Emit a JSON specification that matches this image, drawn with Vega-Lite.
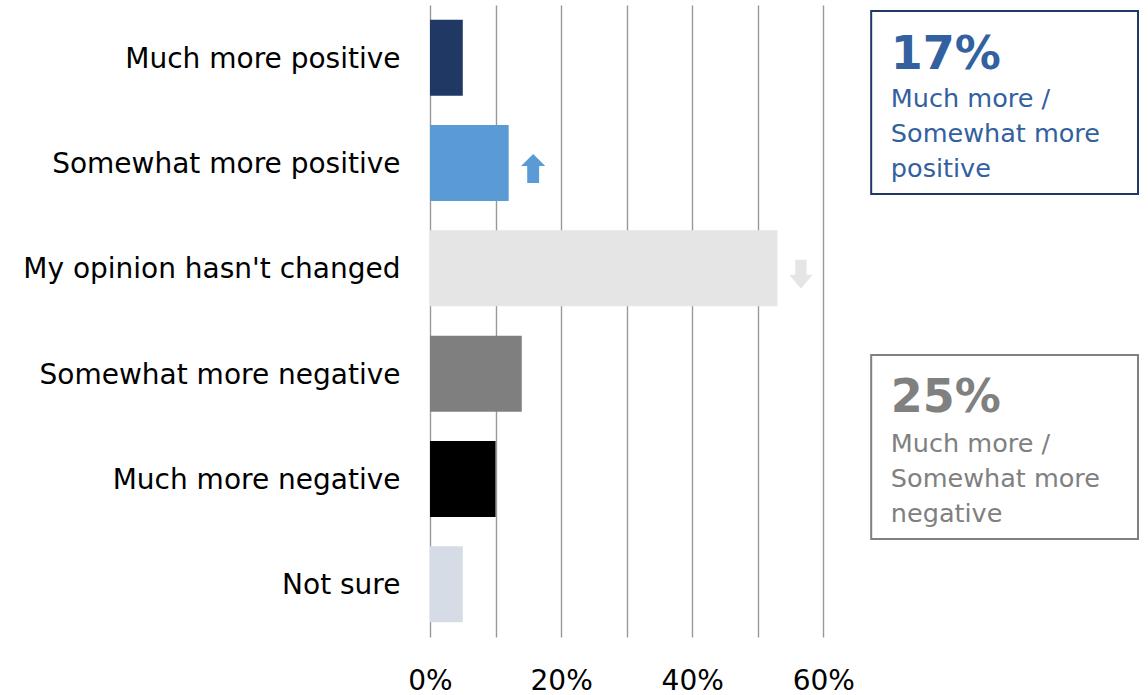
{
  "$schema": "https://vega.github.io/schema/vega-lite/v6.json",
  "width": 708,
  "height": 632,
  "autosize": {"type": "none"},
  "padding": {"left": 430, "top": 5, "right": 10, "bottom": 58},
  "background": "white",
  "config": {
    "view": {"stroke": null},
    "font": "DejaVu Sans",
    "axisY": {
      "grid": false,
      "domain": false,
      "ticks": false,
      "tickSize": 0,
      "labelFontSize": 28,
      "labelColor": "#000000",
      "labelPadding": 30,
      "labelOffset": 2,
      "labelLimit": 500,
      "title": null
    }
  },
  "data": {
    "values": [
      {"category": "Much more positive", "value": 5},
      {"category": "Somewhat more positive", "value": 12, "arrow": "up"},
      {"category": "My opinion hasn't changed", "value": 53, "arrow": "down"},
      {"category": "Somewhat more negative", "value": 14},
      {"category": "Much more negative", "value": 10},
      {"category": "Not sure", "value": 5}
    ]
  },
  "layer": [
    {
      "encoding": {
        "y": {
          "field": "category",
          "type": "nominal",
          "scale": {
            "domain": ["Much more positive", "Somewhat more positive", "My opinion hasn't changed", "Somewhat more negative", "Much more negative", "Not sure"],
            "paddingInner": 0.278,
            "paddingOuter": 0.139
          }
        },
        "x": {
          "field": "value",
          "type": "quantitative",
          "scale": {"domain": [0, 108], "nice": false, "zero": true},
          "axis": {
            "values": [0, 10, 20, 30, 40, 50, 60],
            "labelExpr": "datum.value % 20 == 0 ? datum.value + '%' : ''",
            "grid": true, "gridColor": "#999999", "gridWidth": 1.4,
            "domain": false, "ticks": false, "tickSize": 0,
            "labelFontSize": 28, "labelColor": "#000000", "labelPadding": 30,
            "labelFlush": false, "title": null
          }
        }
      },
      "layer": [
        {
          "mark": {"type": "bar"},
          "encoding": {
            "color": {
              "field": "category",
              "type": "nominal",
              "legend": null,
              "scale": {
                "domain": ["Much more positive", "Somewhat more positive", "My opinion hasn't changed", "Somewhat more negative", "Much more negative", "Not sure"],
                "range": ["#1F3864", "#5B9BD5", "#E5E5E5", "#7F7F7F", "#000000", "#D6DCE5"]
              }
            }
          }
        },
        {
          "transform": [{"filter": "datum.arrow == 'up'"}],
          "mark": {
            "type": "point", "filled": true, "opacity": 1, "color": "#5B9BD5",
            "size": 841, "xOffset": 24.5, "yOffset": 5.5,
            "shape": "M0,-1L0.83,-0.17L0.41,-0.17L0.41,1L-0.41,1L-0.41,-0.17L-0.83,-0.17Z"
          }
        },
        {
          "transform": [{"filter": "datum.arrow == 'down'"}],
          "mark": {
            "type": "point", "filled": true, "opacity": 1, "color": "#E5E5E5",
            "size": 841, "xOffset": 23.5, "yOffset": 6,
            "shape": "M-0.39,-1L0.39,-1L0.39,0.03L0.8,0.03L0,1L-0.8,0.03L-0.39,0.03Z"
          }
        }
      ]
    },
    {
      "data": {"values": [{"pct": "17%", "desc": "Much more /\nSomewhat more\npositive"}]},
      "layer": [
        {
          "mark": {"type": "rect", "fill": "white", "stroke": "#1F3864", "strokeWidth": 2},
          "encoding": {
            "x": {"datum": 67.3, "type": "quantitative", "scale": {"domain": [0, 108], "nice": false},
              "axis": {
                "values": [0, 10, 20, 30, 40, 50, 60],
                "labelExpr": "datum.value % 20 == 0 ? datum.value + '%' : ''",
                "grid": true, "gridColor": "#999999", "gridWidth": 1.4,
                "domain": false, "ticks": false, "tickSize": 0,
                "labelFontSize": 28, "labelColor": "#000000", "labelPadding": 30,
                "labelFlush": false, "title": null
              }},
            "x2": {"datum": 108},
            "y": {"datum": 0.95, "type": "quantitative", "scale": {"domain": [0, 100], "reverse": true, "nice": false}, "axis": null},
            "y2": {"datum": 29.9}
          }
        },
        {
          "mark": {"type": "text", "align": "left", "baseline": "alphabetic", "fontSize": 46, "fontWeight": "bold", "color": "#33609F"},
          "encoding": {
            "x": {"datum": 70.3, "type": "quantitative"},
            "y": {"datum": 10.1, "type": "quantitative"},
            "text": {"field": "pct"}
          }
        },
        {
          "mark": {"type": "text", "align": "left", "baseline": "alphabetic", "fontSize": 25.5, "lineBreak": "\n", "lineHeight": 35, "color": "#33609F"},
          "encoding": {
            "x": {"datum": 70.3, "type": "quantitative"},
            "y": {"datum": 16.1, "type": "quantitative"},
            "text": {"field": "desc"}
          }
        }
      ]
    },
    {
      "data": {"values": [{"pct": "25%", "desc": "Much more /\nSomewhat more\nnegative"}]},
      "layer": [
        {
          "mark": {"type": "rect", "fill": "white", "stroke": "#808080", "strokeWidth": 2},
          "encoding": {
            "x": {"datum": 67.3, "type": "quantitative", "scale": {"domain": [0, 108], "nice": false},
              "axis": {
                "values": [0, 10, 20, 30, 40, 50, 60],
                "labelExpr": "datum.value % 20 == 0 ? datum.value + '%' : ''",
                "grid": true, "gridColor": "#999999", "gridWidth": 1.4,
                "domain": false, "ticks": false, "tickSize": 0,
                "labelFontSize": 28, "labelColor": "#000000", "labelPadding": 30,
                "labelFlush": false, "title": null
              }},
            "x2": {"datum": 108},
            "y": {"datum": 55.38, "type": "quantitative", "scale": {"domain": [0, 100], "reverse": true, "nice": false}, "axis": null},
            "y2": {"datum": 84.49}
          }
        },
        {
          "mark": {"type": "text", "align": "left", "baseline": "alphabetic", "fontSize": 46, "fontWeight": "bold", "color": "#808080"},
          "encoding": {
            "x": {"datum": 70.3, "type": "quantitative"},
            "y": {"datum": 64.4, "type": "quantitative"},
            "text": {"field": "pct"}
          }
        },
        {
          "mark": {"type": "text", "align": "left", "baseline": "alphabetic", "fontSize": 25.5, "lineBreak": "\n", "lineHeight": 35, "color": "#808080"},
          "encoding": {
            "x": {"datum": 70.3, "type": "quantitative"},
            "y": {"datum": 70.7, "type": "quantitative"},
            "text": {"field": "desc"}
          }
        }
      ]
    }
  ],
  "resolve": {"scale": {"y": "independent"}, "axis": {"y": "independent"}}
}
